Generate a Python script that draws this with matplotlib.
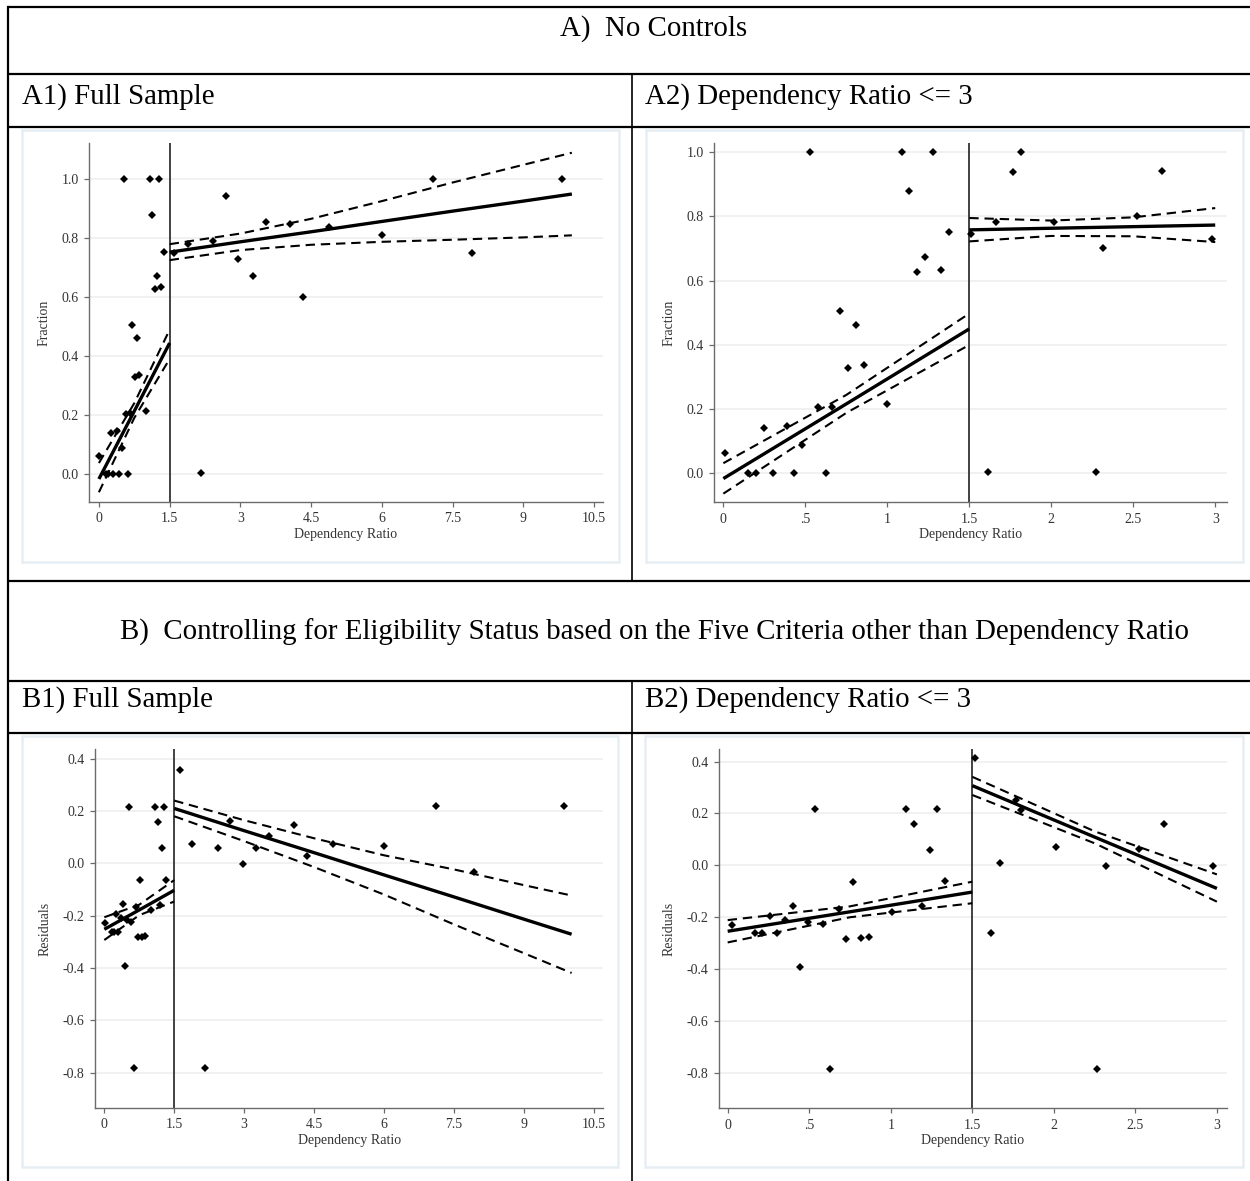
import matplotlib
matplotlib.use("Agg")
import matplotlib.pyplot as plt
from matplotlib.patches import Rectangle

plt.rcParams['font.family'] = ['Liberation Serif', 'DejaVu Serif']

W, H = 1250, 1181

# ---- binned means ----
# left of the cutoff: same bins in full sample and ratio<=3 sample
left_x = [0.01, 0.15, 0.20, 0.25, 0.30, 0.386, 0.433, 0.48, 0.53, 0.575, 0.626,
          0.66, 0.71, 0.76, 0.81, 0.856, 1.0, 1.087, 1.134, 1.18, 1.23, 1.276,
          1.325, 1.376]
frac_left = [0.062, 0.0, 0.0, 0.14, 0.0, 0.147, 0.0, 0.087, 1.0, 0.205, 0.0,
             0.206, 0.505, 0.328, 0.46, 0.337, 0.214, 1.0, 0.878, 0.628, 0.672, 1.0,
             0.634, 0.751]
resid_left = [-0.229, -0.262, -0.262, -0.195, -0.262, -0.21, -0.155, -0.392, -0.217,
              0.216, -0.226, -0.783, -0.167, -0.282, -0.064, -0.281, -0.276, -0.178,
              0.216, 0.158, -0.158, 0.058, 0.216, -0.062]
resid_left_x = [0.025, 0.167, 0.21, 0.26, 0.30, 0.353, 0.40, 0.443, 0.49, 0.537,
                0.582, 0.629, 0.682, 0.725, 0.77, 0.817, 0.864, 1.007, 1.095, 1.144,
                1.193, 1.238, 1.283, 1.333]

# right of the cutoff, full sample
a1_rx = [1.6, 1.89, 2.16, 2.43, 2.69, 2.96, 3.27, 3.54, 4.06, 4.33, 4.89, 6.0, 7.08, 7.91, 9.82]
a1_ry = [0.75, 0.78, 0.005, 0.79, 0.944, 0.73, 0.67, 0.853, 0.846, 0.60, 0.836, 0.809, 1.0, 0.75, 1.0]
b1_rx = [1.62, 1.88, 2.16, 2.43, 2.70, 2.98, 3.26, 3.54, 4.08, 4.36, 4.91, 6.01, 7.11, 7.93, 9.86]
b1_ry = [0.357, 0.073, -0.783, 0.059, 0.163, -0.003, 0.059, 0.106, 0.145, 0.027, 0.075, 0.066, 0.218, -0.033, 0.218]

# right of the cutoff, ratio <= 3
a2_rx = [1.508, 1.616, 1.663, 1.769, 1.818, 2.019, 2.27, 2.317, 2.52, 2.674, 2.98]
a2_ry = [0.746, 0.003, 0.781, 0.939, 1.0, 0.781, 0.003, 0.701, 0.80, 0.943, 0.73]
b2_rx = [1.515, 1.613, 1.667, 1.77, 1.80, 2.016, 2.267, 2.321, 2.525, 2.676, 2.975]
b2_ry = [0.415, -0.262, 0.01, 0.252, 0.215, 0.072, -0.783, -0.003, 0.062, 0.158, -0.003]

# ---- fitted lines and 95% bands ----
fit_lx = [0, 0.75, 1.5]
a1_lfit, a1_lup, a1_llo = [-0.017, 0.213, 0.444], [0.037, 0.24, 0.489], [-0.062, 0.19, 0.39]
a2_lfit, a2_lup, a2_llo = [-0.018, 0.215, 0.449], [0.030, 0.243, 0.497], [-0.065, 0.187, 0.399]
b1_lfit, b1_lup, b1_llo = [-0.252, -0.178, -0.103], [-0.206, -0.158, -0.064], [-0.293, -0.198, -0.146]
b2_lfit, b2_lup, b2_llo = [-0.254, -0.179, -0.103], [-0.211, -0.158, -0.063], [-0.297, -0.200, -0.146]

full_rx = [1.5, 3.0, 4.5, 6.0, 7.5, 9.0, 10.03]
a1_rfit = [0.752, 0.787, 0.821, 0.856, 0.891, 0.925, 0.949]
a1_rup = [0.779, 0.815, 0.865, 0.925, 0.988, 1.048, 1.089]
a1_rlo = [0.725, 0.759, 0.777, 0.787, 0.794, 0.802, 0.809]
b1_rfit = [0.21, 0.125, 0.041, -0.044, -0.128, -0.213, -0.271]
b1_rup = [0.24, 0.165, 0.096, 0.031, -0.023, -0.083, -0.123]
b1_rlo = [0.18, 0.085, -0.014, -0.119, -0.233, -0.343, -0.419]

a2_rfx = [1.5, 2.0, 2.5, 3.0]
a2_rfit = [0.758, 0.763, 0.768, 0.773]
a2_rup = [0.795, 0.787, 0.797, 0.826]
a2_rlo = [0.722, 0.739, 0.738, 0.72]
b2_rfx = [1.5, 2.25, 3.0]
b2_rfit = [0.307, 0.109, -0.089]
b2_rup = [0.341, 0.131, -0.035]
b2_rlo = [0.271, 0.085, -0.140]

full_ticks = [0, 1.5, 3, 4.5, 6, 7.5, 9, 10.5]
full_labels = ["0", "1.5", "3", "4.5", "6", "7.5", "9", "10.5"]
sub_ticks = [0, 0.5, 1, 1.5, 2, 2.5, 3]
sub_labels = ["0", ".5", "1", "1.5", "2", "2.5", "3"]
frac_ticks = [0.0, 0.2, 0.4, 0.6, 0.8, 1.0]
resid_ticks = [-0.8, -0.6, -0.4, -0.2, 0.0, 0.2, 0.4]

fig = plt.figure(figsize=(W / 100, H / 100), dpi=100)

# background layer in pixel coordinates for the table frame
bg = fig.add_axes([0, 0, 1, 1], zorder=0)
bg.set_xlim(0, W)
bg.set_ylim(H, 0)
bg.axis('off')

for yy in [7, 74, 127, 581, 681, 733]:
    bg.plot([8, W], [yy, yy], color='black', lw=1.6, solid_capstyle='butt')
bg.plot([8, 8], [7, H], color='black', lw=1.6)
bg.plot([632, 632], [74, 581], color='black', lw=1.2)
bg.plot([632, 632], [681, H], color='black', lw=1.2)

hdr = dict(fontsize=20.8, color='black', va='baseline')
bg.text(654, 36, "A)  No Controls", ha='center', **hdr)
bg.text(22, 104, "A1) Full Sample", ha='left', **hdr)
bg.text(645, 104, "A2) Dependency Ratio <= 3", ha='left', **hdr)
bg.text(654, 640, "B)  Controlling for Eligibility Status based on the Five Criteria other than Dependency Ratio",
        ha='center', **hdr)
bg.text(22, 707, "B1) Full Sample", ha='left', **hdr)
bg.text(645, 707, "B2) Dependency Ratio <= 3", ha='left', **hdr)

# light graph-region frames
for (l, t, r, b) in [(22, 130, 619, 562), (646, 130, 1243, 562),
                     (22, 736, 618, 1167), (645, 736, 1243, 1167)]:
    bg.add_patch(Rectangle((l, t), r - l, b - t, fill=False, ec='#e6eef4', lw=1.8))


def make_ax(l, t, r, b):
    return fig.add_axes([l / W, 1 - b / H, (r - l) / W, (b - t) / H], zorder=2)


def style(ax, xlim, ylim, xt, xl, yt, ylab):
    ax.set_xlim(*xlim)
    ax.set_ylim(*ylim)
    ax.set_xticks(xt)
    ax.set_xticklabels(xl)
    ax.set_yticks(yt)
    ax.set_yticklabels([f"{v:.1f}" for v in yt])
    for s in ['top', 'right']:
        ax.spines[s].set_visible(False)
    for s in ['left', 'bottom']:
        ax.spines[s].set_color('#6b6b6b')
        ax.spines[s].set_linewidth(1.0)
    ax.tick_params(colors='#6b6b6b', labelcolor='#333333', length=3.5, width=0.9, labelsize=10, pad=4)
    ax.yaxis.grid(True, color='#efefef', lw=1.2)
    ax.set_axisbelow(True)
    ax.set_xlabel("Dependency Ratio", fontsize=10, color='#333333', labelpad=2)
    ax.set_ylabel(ylab, fontsize=10, color='#333333', labelpad=8)
    ax.patch.set_alpha(0)
    ax.axvline(1.5, color='#333333', lw=1.3, zorder=1)


def draw(ax, xs, ys, segs):
    dash = dict(color='black', lw=1.5, dashes=(4.5, 2.8))
    for fx, fit, up, lo in segs:
        ax.plot(fx, up, **dash)
        ax.plot(fx, lo, **dash)
        ax.plot(fx, fit, color='black', lw=2.4, solid_capstyle='butt')
    for x, y in zip(xs, ys):
        ax.plot(x, y, 'D', color='black', ms=4.2, mew=0)


# A1
ax = make_ax(89, 143, 603, 502)
style(ax, (-0.21, 10.69), (-0.095, 1.122), full_ticks, full_labels, frac_ticks, "Fraction")
draw(ax, [left_x[:-1], a1_rx], [frac_left[:-1], a1_ry],
     [(fit_lx, a1_lfit, a1_lup, a1_llo), (full_rx, a1_rfit, a1_rup, a1_rlo)])
ax.plot(left_x[-1], frac_left[-1], 'D', color='black', ms=4.2, mew=0)

# A2
ax = make_ax(714, 143, 1226.7, 502.3)
style(ax, (-0.057, 3.07), (-0.092, 1.029), sub_ticks, sub_labels, frac_ticks, "Fraction")
draw(ax, [left_x, a2_rx], [frac_left, a2_ry],
     [(fit_lx, a2_lfit, a2_lup, a2_llo), (a2_rfx, a2_rfit, a2_rup, a2_rlo)])

# B1
ax = make_ax(95, 749.3, 603.3, 1107.7)
style(ax, (-0.2, 10.71), (-0.934, 0.436), full_ticks, full_labels, resid_ticks, "Residuals")
draw(ax, [resid_left_x, b1_rx], [resid_left, b1_ry],
     [(fit_lx, b1_lfit, b1_lup, b1_llo), (full_rx, b1_rfit, b1_rup, b1_rlo)])

# B2
ax = make_ax(718.7, 749.3, 1226.7, 1108.3)
style(ax, (-0.055, 3.06), (-0.936, 0.447), sub_ticks, sub_labels, resid_ticks, "Residuals")
draw(ax, [resid_left_x, b2_rx], [resid_left, b2_ry],
     [(fit_lx, b2_lfit, b2_lup, b2_llo), (b2_rfx, b2_rfit, b2_rup, b2_rlo)])

fig.savefig("out.png", dpi=100)
